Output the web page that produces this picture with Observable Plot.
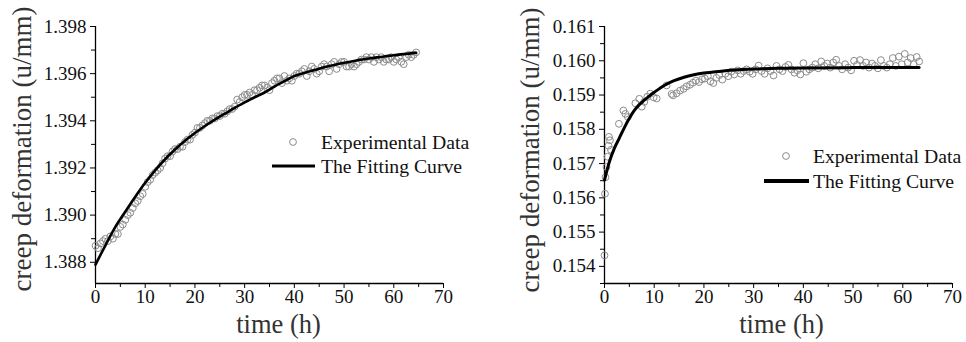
<!DOCTYPE html>
<html><head><meta charset="utf-8">
<script src="https://cdn.jsdelivr.net/npm/d3@7"></script>
<script src="https://cdn.jsdelivr.net/npm/@observablehq/plot@0.6"></script>
<style>
body{margin:0;background:#fff;}
#wrap{position:relative;width:966px;height:342px;overflow:hidden;font-family:"Liberation Serif","Times New Roman",serif;}
.panel{position:absolute;top:0;}
.panel svg, .panel svg text{font-family:"Liberation Serif","Times New Roman",serif !important;}
.leg{position:absolute;font-size:19.7px;color:#111;white-space:nowrap;line-height:20px;height:20px;}
</style></head><body><div id="wrap"></div>
<script>
// ---------- Left panel data ----------
const leftTime = [0.0,0.5,1.0,1.5,2.0,2.5,3.0,3.5,4.0,4.5,5.0,5.5,6.0,6.5,7.0,7.5,8.0,8.5,9.0,9.5,
10.0,10.5,11.0,11.5,12.0,12.5,13.0,13.5,14.0,14.5,15.0,15.5,16.0,16.5,17.0,17.5,18.0,18.5,19.0,19.5,
20.0,20.5,21.0,21.5,22.0,22.5,23.0,23.5,24.0,24.5,25.0,25.5,26.0,26.5,27.0,27.5,28.0,28.5,29.0,29.5,
30.0,30.5,31.0,31.5,32.0,32.5,33.0,33.5,34.0,34.5,35.0,35.5,36.0,36.5,37.0,37.5,38.0,38.5,39.0,39.5,
40.0,40.5,41.0,41.5,42.0,42.5,43.0,43.5,44.0,44.5,45.0,45.5,46.0,46.5,47.0,47.5,48.0,48.5,49.0,49.5,
50.0,50.5,51.0,51.5,52.0,52.5,53.0,53.5,54.0,54.5,55.0,55.5,56.0,56.5,57.0,57.5,58.0,58.5,59.0,59.5,
60.0,60.5,61.0,61.5,62.0,62.5,63.0,63.5,64.0,64.5];
const leftValue = [1.3887,1.3886,1.3888,1.3889,1.3890,1.3889,1.3891,1.3890,1.3892,1.3892,1.3895,1.3896,1.3898,1.3900,1.3901,1.3903,1.3905,1.3906,1.3908,1.3909,
1.3912,1.3914,1.3915,1.3917,1.3918,1.3919,1.3920,1.3922,1.3924,1.3925,1.3925,1.3927,1.3928,1.3928,1.3929,1.3929,1.3931,1.3932,1.3932,1.3934,
1.3935,1.3937,1.3937,1.3938,1.3939,1.3940,1.3940,1.3941,1.3941,1.3942,1.3942,1.3943,1.3943,1.3944,1.3945,1.3945,1.3946,1.3949,1.3948,1.3950,
1.3951,1.3951,1.3952,1.3951,1.3953,1.3953,1.3954,1.3955,1.3955,1.3954,1.3953,1.3956,1.3957,1.3958,1.3958,1.3956,1.3959,1.3957,1.3958,1.3957,
1.3959,1.3960,1.3960,1.3961,1.3962,1.3959,1.3961,1.3963,1.3962,1.3960,1.3961,1.3963,1.3964,1.3963,1.3961,1.3964,1.3965,1.3962,1.3964,1.3965,
1.3965,1.3963,1.3963,1.3964,1.3963,1.3964,1.3965,1.3966,1.3966,1.3967,1.3966,1.3967,1.3965,1.3967,1.3966,1.3967,1.3965,1.3966,1.3966,1.3967,
1.3965,1.3966,1.3967,1.3965,1.3964,1.3967,1.3968,1.3967,1.3968,1.3969];
const leftFitTime  = [0,2,4,6,8,10,12,14,16,18,20,22,24,26,28,30,32,34,36,38,40,42,44,46,48,50,52,54,56,58,60,62,64.5];
const leftFitValue = [1.38790,1.38872,1.38950,1.39015,1.39078,1.39137,1.39190,1.39237,1.39278,1.39315,1.39348,1.39378,1.39405,1.39430,1.39455,1.39478,1.39500,1.39520,1.39545,1.39568,1.39590,1.39603,1.39615,1.39627,1.39637,1.39646,1.39654,1.39661,1.39667,1.39673,1.39678,1.39683,1.39688];
const leftYTicks = [1.388,1.390,1.392,1.394,1.396,1.398];
const leftYMinor = [1.389,1.391,1.393,1.395,1.397];
const leftYDomain = [1.3871,1.398];

// ---------- Right panel data ----------
const rightTime = [0.0,0.1,0.2,0.4,0.6,0.8,0.9,1.1,1.3,2.9,3.8,4.2,4.7,6.2,7.0,7.5,8.0,8.6,9.2,9.9,
10.5,12.5,13.5,13.8,14.5,15.2,15.9,16.5,17.2,17.8,18.4,19.0,19.6,20.2,20.8,21.3,21.9,22.5,23.1,23.7,
24.3,24.9,25.5,26.1,26.8,27.4,28.0,28.6,29.2,29.8,30.4,31.0,31.6,32.2,32.8,33.4,34.0,34.6,35.2,35.8,
36.4,37.0,37.6,38.2,38.8,39.4,40.0,40.6,41.2,41.8,42.4,43.0,43.6,44.2,44.8,45.4,46.0,46.6,47.2,47.8,
48.4,49.0,49.6,50.2,50.8,51.4,52.0,52.6,53.2,53.8,54.4,55.0,55.6,56.2,56.8,57.4,58.0,58.6,59.2,59.8,
60.4,61.0,61.6,62.2,62.8,63.3];
const rightValue = [0.15432,0.15612,0.15660,0.15690,0.15720,0.15752,0.15778,0.15768,0.15740,0.15816,0.15855,0.15845,0.15836,0.15876,0.15889,0.15866,0.15880,0.15895,0.15904,0.15893,
0.15890,0.15928,0.15903,0.15899,0.15905,0.15913,0.15918,0.15925,0.15930,0.15936,0.15942,0.15938,0.15946,0.15948,0.15955,0.15940,0.15935,0.15950,0.15958,0.15945,
0.15962,0.15955,0.15968,0.15960,0.15972,0.15962,0.15970,0.15975,0.15968,0.15962,0.15975,0.15986,0.15970,0.15962,0.15978,0.15970,0.15957,0.15985,0.15975,0.15970,
0.15982,0.15988,0.15975,0.15965,0.15972,0.15960,0.15993,0.15968,0.15975,0.15980,0.15990,0.15978,0.15998,0.15985,0.15992,0.15980,0.15995,0.16003,0.15985,0.15975,
0.15990,0.15980,0.15972,0.16000,0.15988,0.16002,0.15985,0.15995,0.15980,0.15992,0.15985,0.15978,0.16002,0.15985,0.15980,0.15990,0.16008,0.15985,0.16012,0.15990,
0.16020,0.15995,0.16008,0.15990,0.16011,0.15998];
const rightFitTime  = [0,0.5,1,2,3,4,5,6,7,8,9,10,12,14,16,18,20,23,26,30,35,40,50,63.3];
const rightFitValue = [0.15652,0.15680,0.15706,0.15745,0.15775,0.15805,0.15832,0.15855,0.15872,0.15885,0.15897,0.15908,0.15928,0.15942,0.15952,0.15959,0.15964,0.15969,0.15973,0.15976,0.15978,0.15979,0.15980,0.15980];
const rightYTicks = [0.154,0.155,0.156,0.157,0.158,0.159,0.160,0.161];
const rightYMinor = [0.1535,0.1545,0.1555,0.1565,0.1575,0.1585,0.1595,0.1605];
const rightYDomain = [0.1535,0.161];

// ---------- shared ----------
const xTicks = [0,10,20,30,40,50,60,70];
const xMinor = [5,15,25,35,45,55,65];
const xDomain = [0,70];
const xLabel = "time (h)";
const yLabel = "creep deformation (u/mm)";
const legendPoints = "Experimental Data";
const legendCurve = "The Fitting Curve";

const FONT = "Liberation Serif, Times New Roman, serif";

function panel(o) {
  const pts = o.time.map((t,i)=>({t, v:o.value[i]}));
  const fit = o.fitTime.map((t,i)=>({t, v:o.fitValue[i]}));
  return Plot.plot({
    width: o.width, height: 342,
    marginLeft: o.marginLeft, marginRight: o.marginRight, marginTop: 26, marginBottom: 59,
    style: {fontFamily: FONT, background: "white", color: "#111", overflow: "visible"},
    x: {domain: xDomain},
    y: {domain: o.yDomain},
    marks: [
      Plot.axisX(xTicks, {tickSize: 5, tickPadding: 1, fontSize: 19, fontFamily: FONT, label: null, stroke: "#000", strokeWidth: 1, fill: "#111"}),
      Plot.axisX(xMinor, {tickSize: 4, tickFormat: () => "", label: null, stroke: "#000", strokeWidth: 1}),
      Plot.axisY(o.yTicks, {tickSize: 5, tickPadding: 4, fontSize: 19, fontFamily: FONT, tickFormat: d3.format(".3f"), label: null, stroke: "#000", strokeWidth: 1, fill: "#111"}),
      Plot.axisY(o.yMinor, {tickSize: 4, tickFormat: () => "", label: null, stroke: "#000", strokeWidth: 1}),
      Plot.text([xLabel], {frameAnchor: "bottom", dx: o.xLabelDx, dy: 41, lineAnchor: "middle", textAnchor: "middle", fontSize: 26.5, fontFamily: FONT, fill: "#333"}),
      Plot.text([yLabel], {frameAnchor: "left", rotate: -90, dx: o.yLabelDx, dy: o.yLabelDy, lineAnchor: "middle", textAnchor: "middle", fontSize: 27, fontFamily: FONT, fill: "#333"}),
      Plot.ruleX([xDomain[0]], {stroke: "#000", strokeWidth: 1.3}),
      Plot.ruleY([o.yDomain[0]], {stroke: "#000", strokeWidth: 1.3}),
      Plot.dot(pts, {x: "t", y: "v", r: 3.4, stroke: "#8c8c8c", strokeWidth: 1, fill: "none"}),
      Plot.line(fit, {x: "t", y: "v", curve: "catmull-rom", stroke: "#000", strokeWidth: o.fitWidth})
    ]
  });
}

const wrap = document.getElementById("wrap");
function place(el, left, width) {
  const d = document.createElement("div");
  d.className = "panel"; d.style.left = left + "px"; d.style.width = width + "px";
  d.appendChild(el); wrap.appendChild(d);
}
place(panel({time: leftTime, value: leftValue, fitTime: leftFitTime, fitValue: leftFitValue,
  yDomain: leftYDomain, yTicks: leftYTicks, yMinor: leftYMinor,
  width: 483, marginLeft: 95, marginRight: 40, fitWidth: 2.6,
  xLabelDx: 9, yLabelDx: -73, yLabelDy: -6}), 0, 483);
place(panel({time: rightTime, value: rightValue, fitTime: rightFitTime, fitValue: rightFitValue,
  yDomain: rightYDomain, yTicks: rightYTicks, yMinor: rightYMinor,
  width: 480, marginLeft: 118, marginRight: 14, fitWidth: 3,
  xLabelDx: 3, yLabelDx: -74, yLabelDy: -5}), 486, 480);

function legend(cx, cy, lineX1, lineX2, ly, textX, lw) {
  const ns = "http://www.w3.org/2000/svg";
  const s = document.createElementNS(ns, "svg");
  s.setAttribute("width", 966); s.setAttribute("height", 342);
  s.style.position = "absolute"; s.style.left = "0"; s.style.top = "0"; s.style.pointerEvents = "none";
  const c = document.createElementNS(ns, "circle");
  c.setAttribute("cx", cx); c.setAttribute("cy", cy); c.setAttribute("r", 3.4);
  c.setAttribute("fill", "none"); c.setAttribute("stroke", "#8c8c8c");
  s.appendChild(c);
  const l = document.createElementNS(ns, "line");
  l.setAttribute("x1", lineX1); l.setAttribute("x2", lineX2); l.setAttribute("y1", ly); l.setAttribute("y2", ly);
  l.setAttribute("stroke", "#000"); l.setAttribute("stroke-width", lw);
  s.appendChild(l);
  wrap.appendChild(s);
  const t1 = document.createElement("div"); t1.className = "leg"; t1.textContent = legendPoints;
  t1.style.left = textX + "px"; t1.style.top = (cy - 10) + "px"; wrap.appendChild(t1);
  const t2 = document.createElement("div"); t2.className = "leg"; t2.textContent = legendCurve;
  t2.style.left = textX + "px"; t2.style.top = (ly - 10) + "px"; wrap.appendChild(t2);
}
legend(293, 142, 272, 315, 166, 321, 3);
legend(786, 156, 764, 809, 181, 813, 4);
</script></body></html>
